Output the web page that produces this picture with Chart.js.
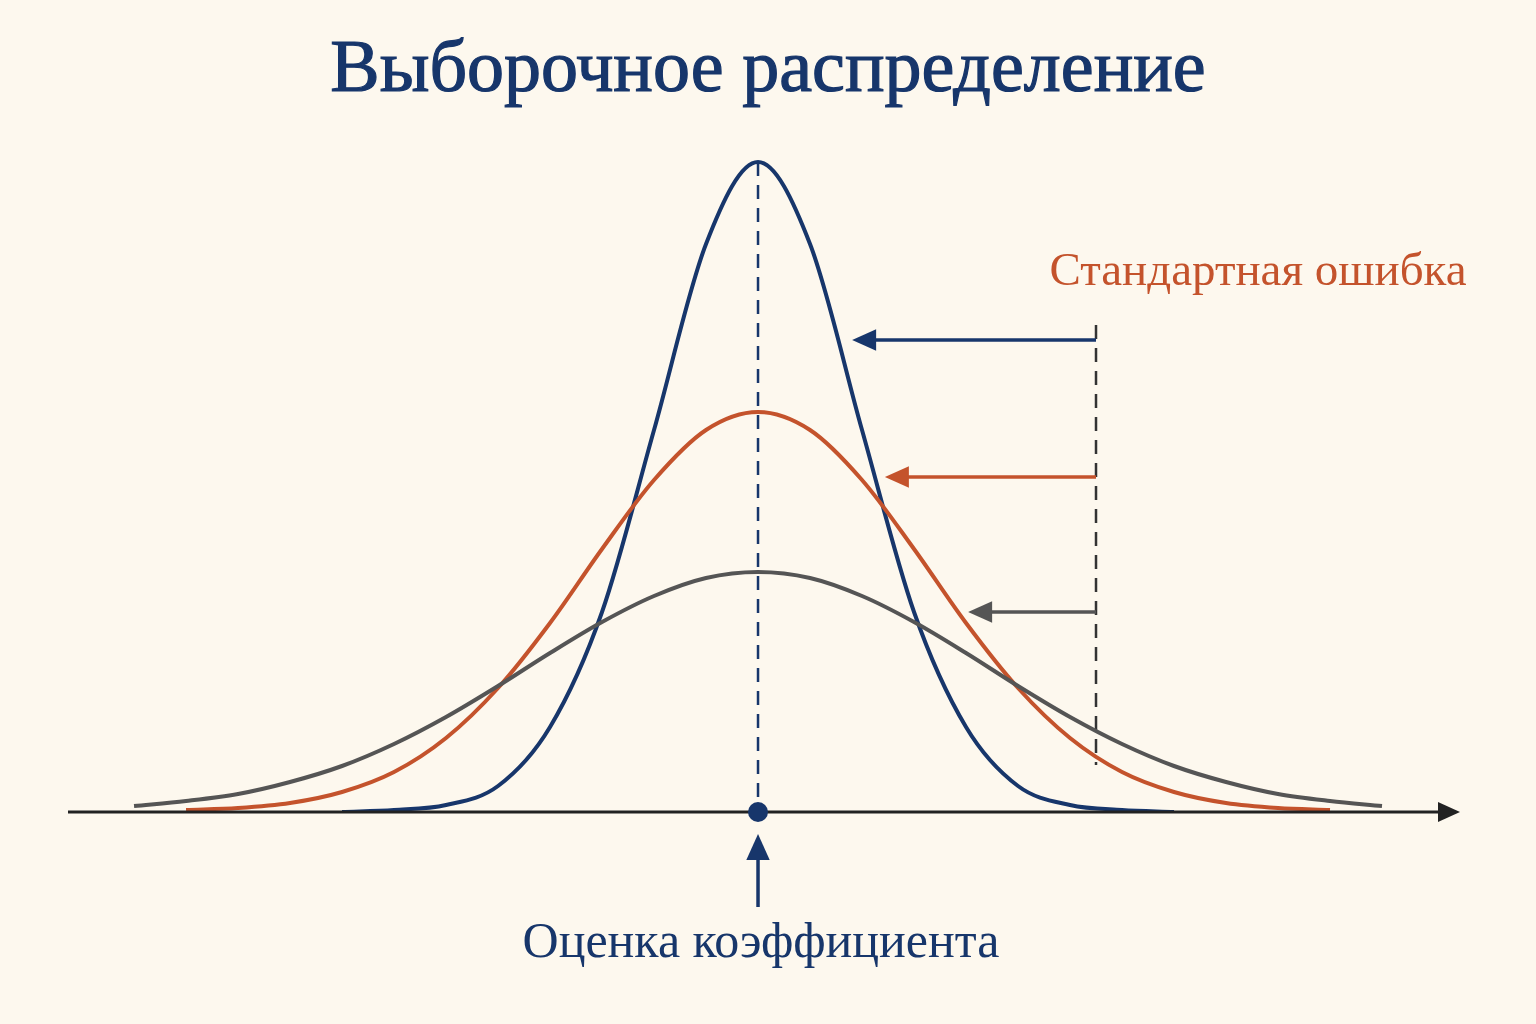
<!DOCTYPE html>
<html><head><meta charset="utf-8">
<script src="https://cdn.jsdelivr.net/npm/chart.js@4"></script>
<style>html,body{margin:0;padding:0;background:#fdf8ee}#w{width:1536px;height:1024px}</style>
</head><body><div id="w"><canvas id="c"></canvas></div>
<script>
const offsets = [-12,-11,-10,-9,-8,-7,-6,-5,-4,-3,-2,-1,0,1,2,3,4,5,6,7,8,9,10,11,12];
const narrow = [null,null,null,null,0,2,7,26,85,200,382,568,650,568,382,200,85,26,7,2,0,null,null,null,null];
const medium = [null,2,4,9,20,40,74,124,189,263,332,382,400,382,332,263,189,124,74,40,20,9,4,2,null];
const wide =   [6,11,18,30,46,68,95,126,159,190,216,234,240,234,216,190,159,126,95,68,46,30,18,11,6];
const title = "Выборочное распределение";
const seLabel = "Стандартная ошибка";
const estLabel = "Оценка коэффициента";
const NAVY="#17366b", ORANGE="#c4532c", GRAY="#555555";
const pts = a => offsets.map((x,i)=>({x, y:a[i]})).filter(p=>p.y!==null);
const ds = (a,c)=>({data:pts(a),borderColor:c,borderWidth:4,pointRadius:0,tension:0.4,cubicInterpolationMode:'monotone',fill:false});
function arrow(ctx,x1,y1,x2,y2,c,w,h){
  ctx.save();ctx.strokeStyle=c;ctx.fillStyle=c;ctx.lineWidth=w;
  const a=Math.atan2(y2-y1,x2-x1);
  ctx.beginPath();ctx.moveTo(x1,y1);ctx.lineTo(x2-Math.cos(a)*h*0.8,y2-Math.sin(a)*h*0.8);ctx.stroke();
  ctx.beginPath();ctx.moveTo(x2,y2);
  ctx.lineTo(x2-Math.cos(a)*h+Math.sin(a)*h*0.45,y2-Math.sin(a)*h-Math.cos(a)*h*0.45);
  ctx.lineTo(x2-Math.cos(a)*h-Math.sin(a)*h*0.45,y2-Math.sin(a)*h+Math.cos(a)*h*0.45);
  ctx.closePath();ctx.fill();ctx.restore();
}
const deco = {id:'deco',
  beforeDraw(ch){const c=ch.ctx;c.save();c.fillStyle='#fdf8ee';c.fillRect(0,0,ch.width,ch.height);c.restore();
    const X=ch.scales.x,Y=ch.scales.y,y0=Y.getPixelForValue(0);
    c.save();c.setLineDash([14,9]);c.lineWidth=2.5;
    c.strokeStyle=NAVY;c.beginPath();c.moveTo(X.getPixelForValue(0),Y.getPixelForValue(650));c.lineTo(X.getPixelForValue(0),y0);c.stroke();
    c.strokeStyle='#333';const xs=X.getPixelForValue(6.5);c.beginPath();c.moveTo(xs,Y.getPixelForValue(487));c.lineTo(xs,Y.getPixelForValue(47));c.stroke();
    c.restore();
  },
  afterDraw(ch){const c=ch.ctx,X=ch.scales.x,Y=ch.scales.y,y0=Y.getPixelForValue(0);
    arrow(c,X.getPixelForValue(-13.27),y0,X.getPixelForValue(13.5),y0,'#222',3,22);
    const xs=X.getPixelForValue(6.5);
    arrow(c,xs,Y.getPixelForValue(472),X.getPixelForValue(1.81),Y.getPixelForValue(472),NAVY,3.5,24);
    arrow(c,xs,Y.getPixelForValue(335),X.getPixelForValue(2.44),Y.getPixelForValue(335),ORANGE,3.5,24);
    arrow(c,xs,Y.getPixelForValue(200),X.getPixelForValue(4.04),Y.getPixelForValue(200),GRAY,3.5,24);
    const xc=X.getPixelForValue(0);
    c.save();c.fillStyle=NAVY;c.beginPath();c.arc(xc,y0,10,0,Math.PI*2);c.fill();c.restore();
    arrow(c,xc,y0+95,xc,y0+22,NAVY,3.5,26);
    c.save();c.textAlign='center';c.textBaseline='middle';
    c.fillStyle=NAVY;c.font='74px "Liberation Serif"';c.fillText(title,768,72);
    c.lineWidth=1.2;c.strokeStyle=NAVY;c.strokeText(title,768,72);
    c.font='50px "Liberation Serif"';c.fillText(estLabel,761,944);
    c.fillStyle=ORANGE;c.font='47px "Liberation Serif"';c.fillText(seLabel,1258,273);
    c.restore();
  }};
new Chart(document.getElementById('c'),{type:'line',
  data:{datasets:[ds(wide,GRAY),ds(medium,ORANGE),ds(narrow,NAVY)]},
  options:{responsive:true,maintainAspectRatio:false,animation:false,
    layout:{padding:{left:68,right:76,top:112,bottom:212}},
    plugins:{legend:{display:false},tooltip:{enabled:false}},
    scales:{x:{type:'linear',min:-13.27,max:13.5,display:false},y:{min:0,max:700,display:false}}},
  plugins:[deco]});
</script></body></html>
